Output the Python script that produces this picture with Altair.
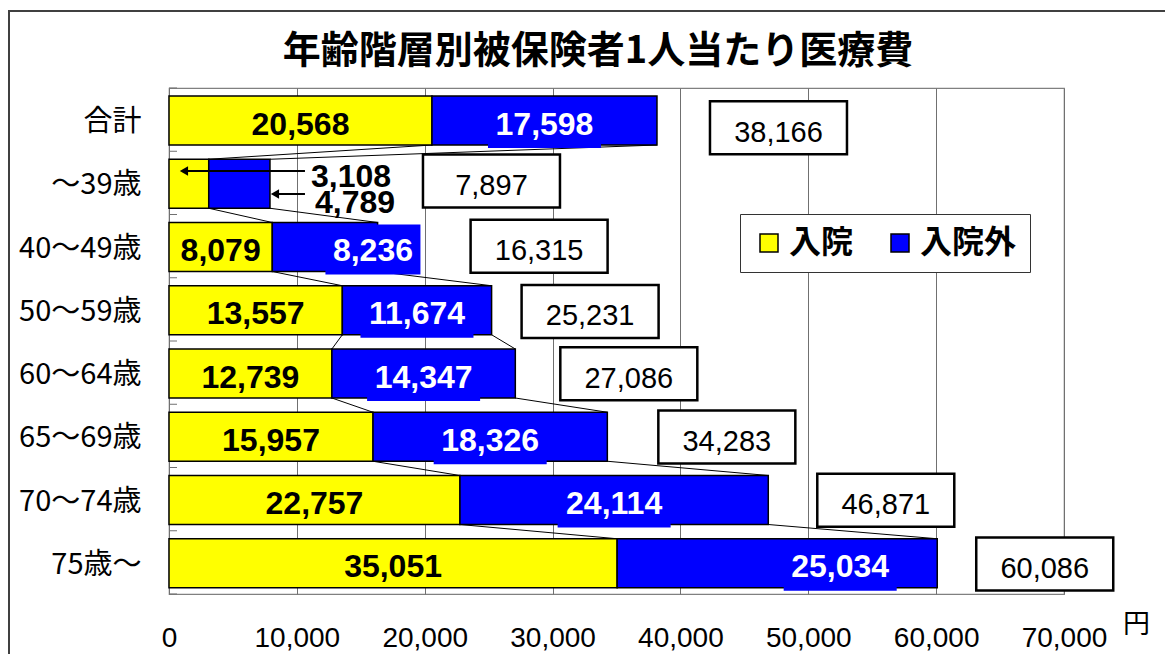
import json
import altair as alt
import pandas as pd

# ---------------- data ----------------
categories = ["合計", "～39歳", "40～49歳", "50～59歳", "60～64歳", "65～69歳", "70～74歳", "75歳～"]
inpatient = [20568, 3108, 8079, 13557, 12739, 15957, 22757, 35051]
outpatient = [17598, 4789, 8236, 11674, 14347, 18326, 24114, 25034]
totals = [38166, 7897, 16315, 25231, 27086, 34283, 46871, 60086]
series = ["入院", "入院外"]
x_ticks = [0, 10000, 20000, 30000, 40000, 50000, 60000, 70000]
chart_title = "年齢階層別被保険者1人当たり医療費"
unit = "円"

# ---------------- layout / style (pixels) ----------------
W, H = 895, 506
XMAX = 70000
UX = XMAX / W                 # data units per pixel (x)
UY = len(categories) / H      # row units per pixel (y)
BAR_T = -0.5 + 8 * UY
BAR_B = BAR_T + 49 * UY
BAR_C = (BAR_T + BAR_B) / 2

box_gap_px = [53, 153, 93, 30, 45, 51, 49, 39]
box_dy_px = [8, -2, 0, 2, 1, 1, 1, 1.5]
BOX_W, BOX_H = 137, 53
blue_nudge_px = [0, 0, 48, 0, 0, 0, 0, 63]
outside_row = 1

YELLOW, BLUE = "#FFFF00", "#0000FF"
JP = "Noto Sans CJK JP"
NUM = "Liberation Sans"


def fmt(v):
    return f"{v:,}"


n = len(categories)

# bars
bar_rows = []
for i, c in enumerate(categories):
    bar_rows.append(dict(cat=c, type=series[0], x0=0, x1=inpatient[i], y0=i + BAR_T, y1=i + BAR_B))
    bar_rows.append(dict(cat=c, type=series[1], x0=inpatient[i], x1=inpatient[i] + outpatient[i],
                         y0=i + BAR_T, y1=i + BAR_B))
bars_df = pd.DataFrame(bar_rows)

# series lines
line_rows = []
for i in range(n - 1):
    ends_a = [inpatient[i], inpatient[i] + outpatient[i]]
    ends_b = [inpatient[i + 1], inpatient[i + 1] + outpatient[i + 1]]
    for a, b in zip(ends_a, ends_b):
        line_rows.append(dict(x0=a, x1=b, y0=i + BAR_B, y1=i + 1 + BAR_T))
lines_df = pd.DataFrame(line_rows)

# inside labels
ylab, blab, bbg = [], [], []
for i in range(n):
    if i == outside_row:
        continue
    ylab.append(dict(x=inpatient[i] / 2, y=i + BAR_C, t=fmt(inpatient[i])))
    cx = inpatient[i] + outpatient[i] / 2 + blue_nudge_px[i] * UX
    t = fmt(outpatient[i])
    blab.append(dict(x=cx, y=i + BAR_C, t=t))
    hw = 56.5 if len(t) >= 6 else 47.5
    bbg.append(dict(x0=cx - hw * UX, x1=cx + hw * UX, y0=i + BAR_T + 2 * UY, y1=i + BAR_B + 3 * UY))
ylab_df = pd.DataFrame(ylab)
blab_df = pd.DataFrame(blab)
bbg_df = pd.DataFrame(bbg)

# total boxes
box_rows = []
for i in range(n):
    x0 = totals[i] + box_gap_px[i] * UX
    x1 = x0 + BOX_W * UX
    yc = i + box_dy_px[i] * UY
    box_rows.append(dict(x0=x0, x1=x1, xc=(x0 + x1) / 2, y0=yc - BOX_H / 2 * UY, y1=yc + BOX_H / 2 * UY,
                         yc=yc, t=fmt(totals[i])))
box_df = pd.DataFrame(box_rows)

# arrows + outside labels for the small row
r = outside_row
tail = totals[r] + 35 * UX
tips = [inpatient[r] * 0.25, totals[r]]
arrow_y = [r - 0.188, r + 0.176]
arrow_df = pd.DataFrame([dict(x0=tail, x1=tp + 6 * UX, y=yy, xh=tp + 5 * UX) for tp, yy in zip(tips, arrow_y)])
out_df = pd.DataFrame([
    dict(x=tail + 6 * UX, y=r - 0.132, t=fmt(inpatient[r])),
    dict(x=tail + 10 * UX, y=r + 0.294, t=fmt(outpatient[r])),
])

# small inside tick marks at row boundaries
tick_df = pd.DataFrame([dict(y=k - 0.5, x0=0, x1=8 * UX) for k in range(n + 1)])

# ---------------- scales / axes ----------------
xscale = alt.Scale(domain=[0, XMAX], nice=False, zero=True)
yscale = alt.Scale(domain=[-0.5, n - 0.5], reverse=True, nice=False, zero=False)

xaxis = alt.Axis(values=x_ticks, format=",d", grid=True, gridColor="#707070", gridWidth=1,
                 ticks=False, domain=False, labelFont=NUM, labelFontSize=28, labelColor="black",
                 labelPadding=30, labelOverlap=False, labelFlush=False,
                 title=unit, titleX=967, titleY=30, titleAngle=0, titleAlign="center",
                 titleBaseline="middle", titleFont=JP, titleFontSize=27, titleFontWeight="normal",
                 titleColor="black")
label_expr = json.dumps(categories, ensure_ascii=False) + "[datum.value]"
yaxis = alt.Axis(values=list(range(n)), labelExpr=label_expr, grid=False, ticks=False, domain=False,
                 labelFont=JP, labelFontSize=29, labelColor="black", labelPadding=28, labelOffset=2,
                 title=None)


def X(f):
    return alt.X(f, type="quantitative", scale=xscale, axis=xaxis)


def Y(f):
    return alt.Y(f, type="quantitative", scale=yscale, axis=yaxis)


ticks_layer = alt.Chart(tick_df).mark_rule(color="#707070", strokeWidth=1).encode(
    x=X("x0"), x2="x1", y=Y("y"))

lines_layer = alt.Chart(lines_df).mark_rule(color="black", strokeWidth=1).encode(
    x=X("x0"), x2="x1", y=Y("y0"), y2="y1")

bars_layer = alt.Chart(bars_df).mark_rect(stroke="black", strokeWidth=1.5).encode(
    x=X("x0"), x2="x1", y=Y("y0"), y2="y1",
    color=alt.Color("type:N", scale=alt.Scale(domain=series, range=[YELLOW, BLUE]),
                    legend=alt.Legend(orient="none", legendX=571, legendY=126, direction="horizontal",
                                      title=None, fillColor="white", strokeColor="#333333", padding=13,
                                      symbolType="square", symbolSize=324, symbolStrokeColor="black",
                                      symbolStrokeWidth=1.5, symbolOpacity=1, labelFont=JP,
                                      labelFontSize=32, labelFontWeight="bold", labelColor="black",
                                      labelOffset=4, columnPadding=30, labelLimit=300)))

bbg_layer = alt.Chart(bbg_df).mark_rect(color=BLUE).encode(
    x=X("x0"), x2="x1", y=Y("y0"), y2="y1")

ylab_layer = alt.Chart(ylab_df).mark_text(font=NUM, fontSize=32, fontWeight="bold", color="black",
                                           baseline="middle", align="center", dy=4).encode(
    x=X("x"), y=Y("y"), text="t:N")

blab_layer = alt.Chart(blab_df).mark_text(font=NUM, fontSize=32, fontWeight="bold", color="white",
                                           baseline="middle", align="center", dy=4).encode(
    x=X("x"), y=Y("y"), text="t:N")

box_layer = alt.Chart(box_df).mark_rect(fill="white", stroke="black", strokeWidth=2.5).encode(
    x=X("x0"), x2="x1", y=Y("y0"), y2="y1")

boxtext_layer = alt.Chart(box_df).mark_text(font=NUM, fontSize=29, color="black",
                                            baseline="middle", align="center", dy=5).encode(
    x=X("xc"), y=Y("yc"), text="t:N")

arrow_layer = alt.Chart(arrow_df).mark_rule(color="black", strokeWidth=2).encode(
    x=X("x0"), x2="x1", y=Y("y"))

head_layer = alt.Chart(arrow_df).mark_point(shape="triangle-left", filled=True, color="black",
                                            size=90, opacity=1).encode(
    x=X("xh"), y=Y("y"))

out_layer = alt.Chart(out_df).mark_text(font=NUM, fontSize=32, fontWeight="bold", color="black",
                                         baseline="middle", align="left", dy=2).encode(
    x=X("x"), y=Y("y"), text="t:N")

title_layer = alt.Chart(pd.DataFrame([{"t": chart_title}])).mark_text(
    font=JP, fontSize=38, fontWeight="bold", color="black", align="center", baseline="middle").encode(
    x=alt.value(429), y=alt.value(-36), text="t:N")

frame_layer = alt.Chart(pd.DataFrame([{"a": 1}])).mark_rect(
    fillOpacity=0, stroke="#404040", strokeWidth=2).encode(
    x=alt.value(-160), y=alt.value(-77), x2=alt.value(1200), y2=alt.value(800))

chart = alt.layer(
    ticks_layer, lines_layer, bars_layer, bbg_layer, ylab_layer, blab_layer,
    box_layer, boxtext_layer, arrow_layer, head_layer, out_layer, title_layer, frame_layer
).properties(
    width=W, height=H,
    autosize=alt.AutoSizeParams(type="none"),
    padding={"left": 161, "top": 80, "right": 101, "bottom": 60},
    background="white",
).configure_view(stroke="#808080", strokeWidth=1.2)

chart.save("out.html", embed_options={"renderer": "svg", "actions": False})
